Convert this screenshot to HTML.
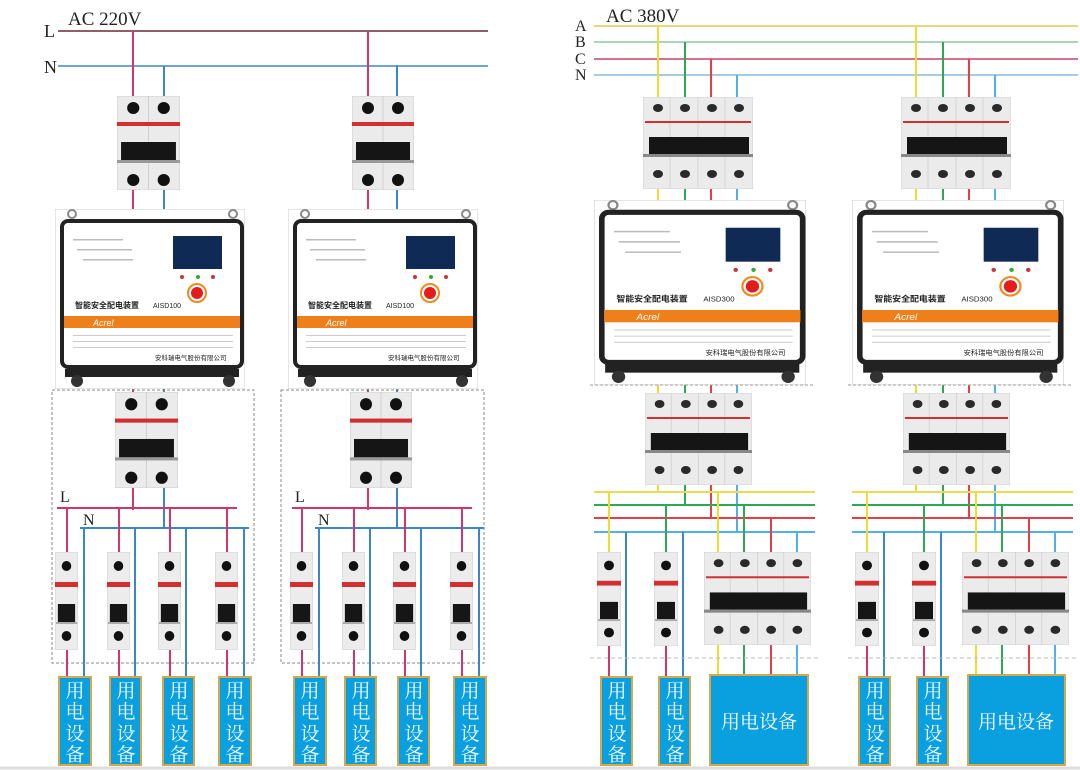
<!DOCTYPE html>
<html><head><meta charset="utf-8"><style>
html,body{margin:0;padding:0;background:#fff}
svg{display:block}
text{font-family:"Liberation Serif","Noto Serif CJK SC",serif}
.cj{font-family:"Liberation Sans","Noto Sans CJK SC",sans-serif;fill:#fff}
</style></head><body>
<svg width="1080" height="770" viewBox="0 0 1080 770" xmlns="http://www.w3.org/2000/svg">
<defs>
<symbol id="b1" viewBox="0 0 24 98" preserveAspectRatio="none">
<rect x="0" y="0" width="24" height="98" fill="#ececec" stroke="#cfcfcf"/>
<circle cx="12" cy="14" r="5" fill="#111"/>
<rect x="0" y="30" width="24" height="5" fill="#d23030"/>
<rect x="3" y="52" width="18" height="18" fill="#161616"/>
<rect x="1" y="70" width="22" height="2" fill="#aaa"/>
<circle cx="12" cy="84" r="5" fill="#111"/>
</symbol>
<symbol id="b2" viewBox="0 0 62 94" preserveAspectRatio="none">
<rect x="0" y="0" width="62" height="94" fill="#ebebeb" stroke="#cfcfcf"/>
<line x1="31" y1="0" x2="31" y2="94" stroke="#d0d0d0"/>
<circle cx="16" cy="12" r="6" fill="#111"/><circle cx="46" cy="12" r="6" fill="#111"/>
<rect x="0" y="26" width="62" height="4" fill="#d23030"/>
<rect x="4" y="46" width="54" height="18" fill="#151515"/>
<rect x="0" y="64" width="62" height="3" fill="#999"/>
<circle cx="16" cy="84" r="6" fill="#111"/><circle cx="46" cy="84" r="6" fill="#111"/>
</symbol>
<symbol id="b4" viewBox="0 0 110 92" preserveAspectRatio="none">
<rect x="0" y="0" width="110" height="92" fill="#ebebeb" stroke="#d0d0d0"/>
<line x1="27" y1="0" x2="27" y2="92" stroke="#d4d4d4"/><line x1="55" y1="0" x2="55" y2="92" stroke="#d4d4d4"/><line x1="82" y1="0" x2="82" y2="92" stroke="#d4d4d4"/>
<g fill="#2a2a2a"><ellipse cx="15" cy="11" rx="5" ry="4"/><ellipse cx="42" cy="11" rx="5" ry="4"/><ellipse cx="69" cy="11" rx="5" ry="4"/><ellipse cx="96" cy="11" rx="5" ry="4"/>
<ellipse cx="15" cy="77" rx="5" ry="4"/><ellipse cx="42" cy="77" rx="5" ry="4"/><ellipse cx="69" cy="77" rx="5" ry="4"/><ellipse cx="96" cy="77" rx="5" ry="4"/></g>
<rect x="2" y="24" width="106" height="2" fill="#d23030"/>
<rect x="6" y="40" width="100" height="17" fill="#151515"/>
<rect x="0" y="57" width="110" height="3" fill="#888"/>
</symbol>
<symbol id="dev" viewBox="0 0 190 180" preserveAspectRatio="none">
<rect x="0" y="0" width="190" height="180" fill="#fff" stroke="#ccc"/>
<circle cx="17" cy="5" r="4" fill="none" stroke="#888" stroke-width="2"/><circle cx="178" cy="5" r="4" fill="none" stroke="#888" stroke-width="2"/>
<rect x="7" y="12" width="180" height="146" rx="6" fill="#fff" stroke="#222" stroke-width="4"/>
<rect x="118" y="27" width="49" height="33" fill="#0f2a55"/>
<circle cx="127" cy="68" r="2" fill="#c33"/><circle cx="143" cy="68" r="2" fill="#3a3"/><circle cx="158" cy="68" r="2" fill="#c33"/>
<circle cx="142" cy="84" r="9" fill="#fff" stroke="#f08a20" stroke-width="2"/><circle cx="142" cy="84" r="6" fill="#e31c1c"/>
<g fill="#bbb"><rect x="18" y="30" width="50" height="1.5"/><rect x="22" y="40" width="55" height="1.5"/><rect x="28" y="50" width="50" height="1.5"/></g>
<text x="20" y="99" font-size="8" fill="#222" font-weight="bold" style="font-family:'Noto Sans CJK SC',sans-serif">智能安全配电装置</text>
<text x="98" y="99" font-size="7" fill="#222" style="font-family:'Liberation Sans',sans-serif">AISD100</text>
<rect x="9" y="107" width="176" height="12" fill="#ee7f1a"/>
<text x="38" y="117" font-size="9" fill="#fff" font-style="italic" style="font-family:'Liberation Sans',sans-serif">Acrel</text>
<g fill="#ccc"><rect x="18" y="126" width="160" height="1"/><rect x="18" y="132" width="160" height="1"/><rect x="18" y="138" width="160" height="1"/></g>
<text x="100" y="151" font-size="6.5" fill="#222" style="font-family:'Noto Sans CJK SC',sans-serif">安科瑞电气股份有限公司</text>
<rect x="10" y="160" width="174" height="8" fill="#222"/>
<circle cx="22" cy="172" r="6" fill="#333"/><circle cx="174" cy="172" r="6" fill="#333"/>
</symbol>
<symbol id="dev3" viewBox="0 0 190 180" preserveAspectRatio="none">
<rect x="0" y="0" width="190" height="180" fill="#fff" stroke="#ccc"/>
<circle cx="17" cy="5" r="4" fill="none" stroke="#888" stroke-width="2"/><circle cx="178" cy="5" r="4" fill="none" stroke="#888" stroke-width="2"/>
<rect x="7" y="12" width="180" height="146" rx="6" fill="#fff" stroke="#222" stroke-width="5"/>
<rect x="118" y="27" width="49" height="33" fill="#0f2a55"/>
<circle cx="127" cy="68" r="2" fill="#c33"/><circle cx="143" cy="68" r="2" fill="#3a3"/><circle cx="158" cy="68" r="2" fill="#c33"/>
<circle cx="142" cy="84" r="9" fill="#fff" stroke="#f08a20" stroke-width="2"/><circle cx="142" cy="84" r="6" fill="#e31c1c"/>
<g fill="#bbb"><rect x="18" y="30" width="50" height="1.5"/><rect x="22" y="40" width="55" height="1.5"/><rect x="28" y="50" width="50" height="1.5"/></g>
<text x="20" y="99" font-size="8" fill="#222" font-weight="bold" style="font-family:'Noto Sans CJK SC',sans-serif">智能安全配电装置</text>
<text x="98" y="99" font-size="7" fill="#222" style="font-family:'Liberation Sans',sans-serif">AISD300</text>
<rect x="9" y="107" width="176" height="12" fill="#ee7f1a"/>
<text x="38" y="117" font-size="9" fill="#fff" font-style="italic" style="font-family:'Liberation Sans',sans-serif">Acrel</text>
<g fill="#ccc"><rect x="18" y="126" width="160" height="1"/><rect x="18" y="132" width="160" height="1"/><rect x="18" y="138" width="160" height="1"/></g>
<text x="100" y="151" font-size="6.5" fill="#222" style="font-family:'Noto Sans CJK SC',sans-serif">安科瑞电气股份有限公司</text>
<rect x="10" y="160" width="174" height="8" fill="#222"/>
<circle cx="22" cy="172" r="6" fill="#333"/><circle cx="174" cy="172" r="6" fill="#333"/>
</symbol>
</defs>

<text x="68" y="25" font-size="19" fill="#222">AC 220V</text>
<text x="44" y="37" font-size="18" fill="#222">L</text>
<text x="44" y="73" font-size="18" fill="#222">N</text>
<line x1="58" y1="31" x2="488" y2="31" stroke="#6b2a3a" stroke-width="1.5"/>
<line x1="58" y1="66" x2="488" y2="66" stroke="#3d86c6" stroke-width="1.5"/>
<g stroke-width="2">
<line x1="133" y1="31" x2="133" y2="510" stroke="#d0356b"/><line x1="164" y1="66" x2="164" y2="528" stroke="#3d86c6"/>
<line x1="368" y1="31" x2="368" y2="510" stroke="#d0356b"/><line x1="397" y1="66" x2="397" y2="528" stroke="#3d86c6"/>
</g>
<use href="#b2" x="117" y="96" width="63" height="94"/>
<use href="#b2" x="352" y="96" width="62" height="94"/>
<use href="#dev" x="55" y="209" width="190" height="180"/>
<use href="#dev" x="288" y="209" width="190" height="180"/>
<rect x="52" y="390" width="202" height="273" fill="none" stroke="#888" stroke-dasharray="3,2"/>
<rect x="281" y="390" width="203" height="273" fill="none" stroke="#888" stroke-dasharray="3,2"/>
<use href="#b2" x="115" y="392" width="63" height="96"/>
<use href="#b2" x="350" y="392" width="62" height="96"/>

<g id="lg1">
<text x="60" y="502" font-size="16" fill="#222">L</text>
<text x="83" y="525" font-size="16" fill="#222">N</text>
<line x1="57" y1="508" x2="237" y2="508" stroke="#d0356b" stroke-width="2"/>
<line x1="80" y1="528" x2="249" y2="528" stroke="#3d86c6" stroke-width="2"/>
<g stroke-width="2" stroke="#d0356b"><line x1="67" y1="508" x2="67" y2="678"/><line x1="119" y1="508" x2="119" y2="678"/><line x1="170" y1="508" x2="170" y2="678"/><line x1="227" y1="508" x2="227" y2="678"/></g>
<g stroke-width="2" stroke="#3d86c6"><line x1="84" y1="528" x2="84" y2="678"/><line x1="135" y1="528" x2="135" y2="678"/><line x1="186" y1="528" x2="186" y2="678"/><line x1="244" y1="528" x2="244" y2="678"/></g>
<use href="#b1" x="55" y="552" width="23" height="98"/><use href="#b1" x="107" y="552" width="23" height="98"/><use href="#b1" x="158" y="552" width="23" height="98"/><use href="#b1" x="215" y="552" width="23" height="98"/>
</g>
<use href="#lg1" x="235" y="0"/>

<g fill="#0aa0e0" stroke="#d6a84a" stroke-width="2">
<rect x="59" y="677" width="32" height="88"/><rect x="110" y="677" width="31" height="88"/><rect x="163" y="677" width="31" height="88"/><rect x="219" y="677" width="32" height="88"/>
<rect x="294" y="677" width="32" height="88"/><rect x="345" y="677" width="31" height="88"/><rect x="398" y="677" width="31" height="88"/><rect x="454" y="677" width="32" height="88"/>
</g>
<g class="cj" font-size="19" text-anchor="middle">
<text x="75" y="697">用</text><text x="75" y="718">电</text><text x="75" y="740">设</text><text x="75" y="761">备</text>
<text x="126" y="697">用</text><text x="126" y="718">电</text><text x="126" y="740">设</text><text x="126" y="761">备</text>
<text x="179" y="697">用</text><text x="179" y="718">电</text><text x="179" y="740">设</text><text x="179" y="761">备</text>
<text x="235" y="697">用</text><text x="235" y="718">电</text><text x="235" y="740">设</text><text x="235" y="761">备</text>
<text x="310" y="697">用</text><text x="310" y="718">电</text><text x="310" y="740">设</text><text x="310" y="761">备</text>
<text x="361" y="697">用</text><text x="361" y="718">电</text><text x="361" y="740">设</text><text x="361" y="761">备</text>
<text x="414" y="697">用</text><text x="414" y="718">电</text><text x="414" y="740">设</text><text x="414" y="761">备</text>
<text x="470" y="697">用</text><text x="470" y="718">电</text><text x="470" y="740">设</text><text x="470" y="761">备</text>
</g>

<text x="606" y="22" font-size="19" fill="#222">AC 380V</text>
<g font-size="16" fill="#222"><text x="575" y="31">A</text><text x="575" y="47">B</text><text x="575" y="64">C</text><text x="575" y="80">N</text></g>
<line x1="594" y1="26" x2="1078" y2="26" stroke="#d8cc50" stroke-width="1.5"/>
<line x1="594" y1="42" x2="1078" y2="42" stroke="#8cc8a0" stroke-width="1.5"/>
<line x1="594" y1="59" x2="1078" y2="59" stroke="#c8406a" stroke-width="1.5"/>
<line x1="594" y1="75" x2="1078" y2="75" stroke="#88b8d8" stroke-width="1.5"/>

<g id="rg">
<g stroke-width="2">
<line x1="658" y1="26" x2="658" y2="492" stroke="#f0dc30"/>
<line x1="685" y1="42" x2="685" y2="505" stroke="#2fa855"/>
<line x1="711" y1="59" x2="711" y2="518" stroke="#e0404a"/>
<line x1="737" y1="75" x2="737" y2="532" stroke="#50b0e8"/>
</g>
<use href="#b4" x="643" y="97" width="110" height="92"/>
<use href="#dev3" x="594" y="200" width="212" height="185"/>
<line x1="590" y1="385" x2="815" y2="385" stroke="#999" stroke-dasharray="3,2"/>
<use href="#b4" x="645" y="393" width="107" height="92"/>
<line x1="594" y1="492" x2="815" y2="492" stroke="#e8dc50" stroke-width="2"/>
<line x1="594" y1="505" x2="815" y2="505" stroke="#2fa855" stroke-width="2"/>
<line x1="594" y1="518" x2="815" y2="518" stroke="#e0404a" stroke-width="2"/>
<line x1="594" y1="532" x2="815" y2="532" stroke="#50b0e8" stroke-width="2"/>
<g stroke-width="2">
<line x1="609" y1="492" x2="609" y2="555" stroke="#f0dc30"/><line x1="609" y1="645" x2="609" y2="678" stroke="#d0356b"/><line x1="626" y1="532" x2="626" y2="678" stroke="#3d86c6"/>
<line x1="666" y1="505" x2="666" y2="555" stroke="#2fa855"/><line x1="666" y1="645" x2="666" y2="678" stroke="#d0356b"/><line x1="683" y1="532" x2="683" y2="678" stroke="#3d86c6"/>
<line x1="718" y1="492" x2="718" y2="675" stroke="#f0dc30"/><line x1="744" y1="505" x2="744" y2="675" stroke="#2fa855"/><line x1="771" y1="518" x2="771" y2="675" stroke="#e0404a"/><line x1="797" y1="532" x2="797" y2="675" stroke="#50b0e8"/>
</g>
<use href="#b1" x="597" y="552" width="24" height="94"/>
<use href="#b1" x="654" y="552" width="24" height="94"/>
<use href="#b4" x="704" y="552" width="107" height="93"/>
<line x1="590" y1="658" x2="820" y2="658" stroke="#bbb" stroke-dasharray="4,3"/>
</g>
<use href="#rg" x="258" y="0"/>

<g fill="#0aa0e0" stroke="#d6a84a" stroke-width="2">
<rect x="601" y="677" width="31" height="88"/><rect x="659" y="677" width="31" height="88"/><rect x="710" y="675" width="98" height="90"/>
<rect x="859" y="677" width="31" height="88"/><rect x="917" y="677" width="31" height="88"/><rect x="968" y="675" width="97" height="90"/>
</g>
<g class="cj" font-size="19" text-anchor="middle">
<text x="617" y="697">用</text><text x="617" y="718">电</text><text x="617" y="740">设</text><text x="617" y="761">备</text>
<text x="675" y="697">用</text><text x="675" y="718">电</text><text x="675" y="740">设</text><text x="675" y="761">备</text>
<text x="875" y="697">用</text><text x="875" y="718">电</text><text x="875" y="740">设</text><text x="875" y="761">备</text>
<text x="933" y="697">用</text><text x="933" y="718">电</text><text x="933" y="740">设</text><text x="933" y="761">备</text>
<text x="759" y="728">用电设备</text>
<text x="1016" y="728">用电设备</text>
</g>
<line x1="0" y1="768" x2="1080" y2="768" stroke="#ddd" stroke-width="3"/>
</svg>
</body></html>
